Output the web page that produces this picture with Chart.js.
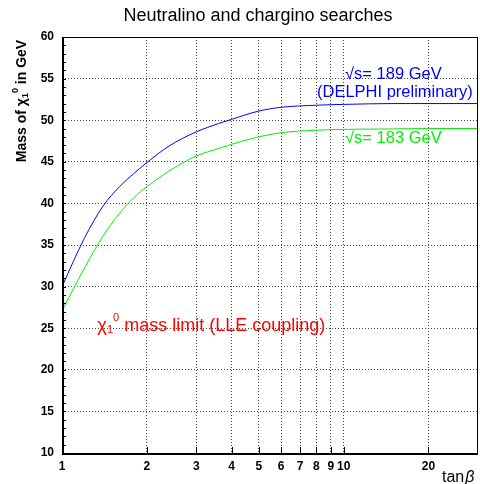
<!DOCTYPE html>
<html>
<head>
<meta charset="utf-8">
<script src="https://cdn.jsdelivr.net/npm/chart.js@4.4.1/dist/chart.umd.min.js"></script>
<style>
    html, body { margin: 0; padding: 0; background: #fff; }
    #wrap { width: 480px; height: 484px; position: relative; }
</style>
</head>
<body>
<div id="wrap"><canvas id="chart" width="480" height="484"></canvas></div>
<script>
// data
const tanBeta = [1, 1.2, 1.4, 1.6, 1.8, 2, 2.4, 3, 3.6, 4, 5, 6, 8, 10, 15, 20, 30];
const mass189 = [30.0, 35.8, 39.7, 42.0, 43.6, 44.9, 46.9, 48.6, 49.6, 50.1, 51.1, 51.55, 51.8, 51.9, 52.0, 52.0, 52.0];
const mass183 = [27.1, 32.2, 36.1, 38.8, 40.7, 42.0, 43.9, 45.7, 46.6, 47.1, 48.0, 48.5, 48.8, 48.9, 48.95, 49.0, 49.0];
const xTicks = [1, 2, 3, 4, 5, 6, 7, 8, 9, 10, 20];
const yTicks = [10, 15, 20, 25, 30, 35, 40, 45, 50, 55, 60];

const FONT = '"Liberation Sans", Arial, sans-serif';

// teks dengan subskrip / superskrip
function drawRich(ctx, parts, x, y, align) {
    let total = 0;
    parts.forEach(p => { ctx.font = p.font; p.w = ctx.measureText(p.t).width; total += p.w; });
    let cx = align === 'center' ? x - total / 2 : x;
    parts.forEach(p => {
        ctx.font = p.font;
        ctx.fillText(p.t, cx, y + (p.dy || 0));
        cx += p.w;
    });
}

const decorPlugin = {
    id: 'decor',
    afterDraw(chart) {
        const { ctx, chartArea: a, scales } = chart;
        const xs = scales.x, ys = scales.y;
        ctx.save();

        // minor ticks sumbu y
        ctx.strokeStyle = '#000';
        ctx.lineWidth = 1;
        for (let v = ys.min; v <= ys.max; v++) {
            const py = Math.round(ys.getPixelForValue(v)) + 0.5;
            ctx.beginPath(); ctx.moveTo(a.left, py); ctx.lineTo(a.left + 4, py); ctx.stroke();
        }
        // ticks sumbu x
        xTicks.forEach(v => {
            const px = Math.round(xs.getPixelForValue(v)) + 0.5;
            ctx.beginPath(); ctx.moveTo(px, a.bottom); ctx.lineTo(px, a.bottom - 6); ctx.stroke();
        });

        // frame
        ctx.lineWidth = 1;
        ctx.strokeRect(a.left + 0.5, a.top + 0.5, a.right - a.left - 1, a.bottom - a.top);
        ctx.lineWidth = 2;
        ctx.beginPath();
        ctx.moveTo(a.left + 1, a.top); ctx.lineTo(a.left + 1, a.bottom + 1); ctx.lineTo(a.right, a.bottom + 1);
        ctx.stroke();

        // judul
        ctx.fillStyle = '#000';
        ctx.textBaseline = 'middle';
        ctx.textAlign = 'center';
        ctx.font = '18px ' + FONT;
        ctx.fillText('Neutralino and chargino searches', 258, 16);

        // label sumbu x
        ctx.textAlign = 'left';
        ctx.font = '16px ' + FONT;
        ctx.fillText('tan', 442, 478);
        ctx.font = 'italic 16px ' + FONT;
        ctx.fillText('β', 442 + ctx.measureText('tan').width + 1, 478);

        // label sumbu y
        ctx.save();
        ctx.translate(22, 101);
        ctx.rotate(-Math.PI / 2);
        drawRich(ctx, [
            { t: 'Mass of χ', font: 'bold 14px ' + FONT },
            { t: '1', font: 'bold 9px ' + FONT, dy: 4 },
            { t: '0', font: 'bold 9px ' + FONT, dy: -6 },
            { t: ' in GeV', font: 'bold 14px ' + FONT }
        ], 0, 0, 'center');
        ctx.restore();

        // anotasi
        ctx.textAlign = 'left';
        ctx.fillStyle = '#0000ff';
        ctx.font = '16.5px ' + FONT;
        ctx.fillText('√s= 189 GeV', 345, 74);
        ctx.fillText('(DELPHI preliminary)', 317, 92);
        ctx.fillStyle = '#00f000';
        ctx.fillText('√s= 183 GeV', 345, 138);

        ctx.fillStyle = '#ff0000';
        drawRich(ctx, [
            { t: 'χ', font: '19px ' + FONT },
            { t: '1', font: '11px ' + FONT, dy: 4 },
            { t: '0', font: '11px ' + FONT, dy: -8 },
            { t: ' mass limit (LLE coupling)', font: '18px ' + FONT }
        ], 97, 326, 'left');

        ctx.restore();
    }
};

const toPoints = (xs, ys) => xs.map((x, i) => ({ x: x, y: ys[i] }));

new Chart(document.getElementById('chart'), {
    type: 'line',
    data: {
        datasets: [
            { label: '189 GeV', data: toPoints(tanBeta, mass189), borderColor: '#0000ff', borderWidth: 1,
              pointRadius: 0, cubicInterpolationMode: 'monotone', fill: false },
            { label: '183 GeV', data: toPoints(tanBeta, mass183), borderColor: '#00f000', borderWidth: 1,
              pointRadius: 0, cubicInterpolationMode: 'monotone', fill: false }
        ]
    },
    options: {
        responsive: false,
        animation: false,
        layout: { padding: { top: 37, right: 2, left: 0, bottom: 0 } },
        plugins: { legend: { display: false }, tooltip: { enabled: false }, title: { display: false } },
        scales: {
            x: {
                type: 'logarithmic',
                min: 1, max: 30,
                afterBuildTicks: s => { s.ticks = xTicks.map(v => ({ value: v })); },
                afterFit: s => { s.height = 31; },
                ticks: {
                    autoSkip: false, maxRotation: 0, padding: 6, color: '#000',
                    font: { family: FONT, size: 12, weight: 'bold' },
                    callback: v => String(v)
                },
                grid: { color: '#444', lineWidth: 1, drawTicks: false, tickLength: 0 },
                border: { display: false, dash: [1, 2] }
            },
            y: {
                type: 'linear',
                min: 10, max: 60,
                afterBuildTicks: s => { s.ticks = yTicks.map(v => ({ value: v })); },
                afterFit: s => { s.width = 62; },
                ticks: {
                    padding: 8, color: '#000',
                    font: { family: FONT, size: 12, weight: 'bold' },
                    callback: v => String(v)
                },
                grid: { color: '#444', lineWidth: 1, drawTicks: false, tickLength: 0 },
                border: { display: false, dash: [1, 2] }
            }
        }
    },
    plugins: [decorPlugin]
});
</script>
</body>
</html>
